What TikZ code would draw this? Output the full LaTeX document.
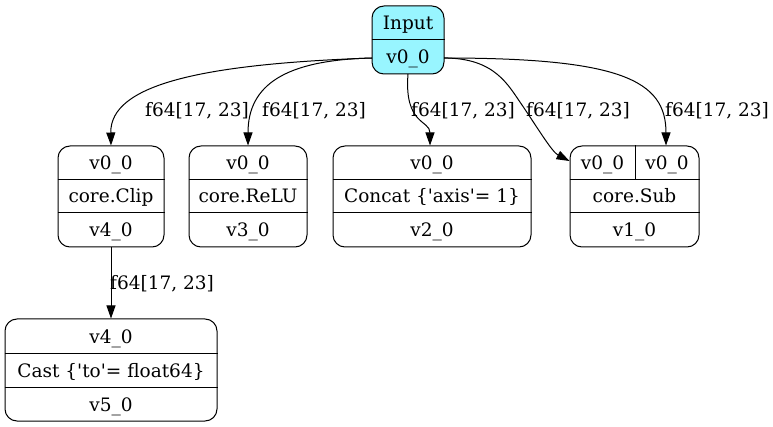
\documentclass[tikz,border=0pt]{standalone}
\usepackage{fontspec}
\setmainfont{DejaVu Serif}
\usetikzlibrary{arrows.meta}
\definecolor{incyan}{HTML}{98F5FF}
\newcommand{\q}{\textquotesingle}
\begin{document}
\begin{tikzpicture}[x=1pt,y=-1pt,
  rec/.style={draw, rounded corners=12pt, line width=1pt, inner sep=0pt},
  txt/.style={inner sep=0pt, anchor=base, font=\fontsize{18.5}{22}\selectfont},
  lbl/.style={inner sep=0pt, anchor=base, font=\fontsize{18.5}{22}\selectfont},
  edge/.style={line width=1pt, -{Triangle[length=13pt,width=9pt]}}]
\useasboundingbox (0,0) rectangle (773,427);
% Input
\node[rec, fill=incyan, minimum width=72pt, minimum height=68pt] (inp) at (408,40) {};
\draw[line width=1pt] (inp.west |- 0,40) -- (inp.east |- 0,40);
\node[txt] (inpa) at (408,30) {Input};
\node[txt] (inpb) at (408,64) {v0\_0};
% Clip
\node[rec, minimum width=106pt, minimum height=101pt] (clip) at (111,196.5) {};
\draw[line width=1pt] (clip.west |- 0,180) -- (clip.east |- 0,180);
\draw[line width=1pt] (clip.west |- 0,213) -- (clip.east |- 0,213);
\node[txt] (clipa) at (111,170) {v0\_0};
\node[txt] (clipb) at (111,203) {core.Clip};
\node[txt] (clipc) at (111,237) {v4\_0};
% ReLU
\node[rec, minimum width=118pt, minimum height=101pt] (relu) at (248,196.5) {};
\draw[line width=1pt] (relu.west |- 0,180) -- (relu.east |- 0,180);
\draw[line width=1pt] (relu.west |- 0,213) -- (relu.east |- 0,213);
\node[txt] (relua) at (248,170) {v0\_0};
\node[txt] (relub) at (248,203) {core.ReLU};
\node[txt] (reluc) at (248,237) {v3\_0};
% Concat
\node[rec, minimum width=198pt, minimum height=101pt] (cat) at (432,196.5) {};
\draw[line width=1pt] (cat.west |- 0,180) -- (cat.east |- 0,180);
\draw[line width=1pt] (cat.west |- 0,213) -- (cat.east |- 0,213);
\node[txt] (cata) at (432,170) {v0\_0};
\node[txt] (catb) at (432,203) {Concat \{\q axis\q= 1\}};
\node[txt] (catc) at (432,237) {v2\_0};
% Sub
\node[rec, minimum width=129pt, minimum height=101pt] (sub) at (634.5,196.5) {};
\draw[line width=1pt] (sub.west |- 0,180) -- (sub.east |- 0,180);
\draw[line width=1pt] (sub.west |- 0,213) -- (sub.east |- 0,213);
\draw[line width=1pt] (sub.north -| 635,0) -- (635,180);
\node[txt] (suba) at (602.5,170) {v0\_0};
\node[txt] (subb) at (667,170) {v0\_0};
\node[txt] (subc) at (634.5,203) {core.Sub};
\node[txt] (subd) at (634.5,237) {v1\_0};
% Cast
\node[rec, minimum width=212pt, minimum height=102pt] (cast) at (111,370) {};
\draw[line width=1pt] (cast.west |- 0,353) -- (cast.east |- 0,353);
\draw[line width=1pt] (cast.west |- 0,387) -- (cast.east |- 0,387);
\node[txt] (casta) at (111,343) {v4\_0};
\node[txt] (castb) at (111,377) {Cast \{\q to\q= float64\}};
\node[txt] (castc) at (111,411) {v5\_0};
% ports
\coordinate (pL) at (372,58);
\coordinate (pR) at (444,58);
\coordinate (pB) at (408,74);
% edges
\draw[edge] (pL) .. controls (200,64) and (110,85) .. (clip.north);
\draw[edge] (pL) .. controls (285,60) and (248,85) .. (relu.north);
\draw[edge] (pB) .. controls (404,125) and (430,120) .. (cat.north -| 430,0);
\draw[edge] (pR) .. controls (495,58) and (508,85) .. (522,105) .. controls (537,127) and (552,152) .. (sub.west |- 0,161);
\draw[edge] (pR) .. controls (620,58) and (666,80) .. (sub.north -| 666,0);
\draw[edge] (clip.south) -- (cast.north);
% labels
\node[lbl] (l1) at (197,117) {f64[17, 23]};
\node[lbl] (l2) at (314,117) {f64[17, 23]};
\node[lbl] (l3) at (463,117) {f64[17, 23]};
\node[lbl] (l4) at (578,117) {f64[17, 23]};
\node[lbl] (l5) at (717,117) {f64[17, 23]};
\node[lbl] (l6) at (162,290) {f64[17, 23]};
\end{tikzpicture}
\end{document}
